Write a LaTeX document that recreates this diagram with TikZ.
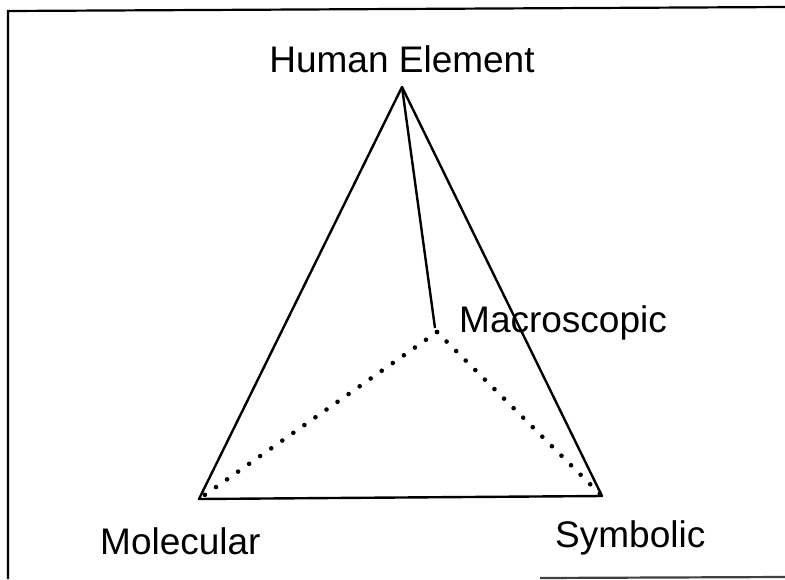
\documentclass[tikz,border=0pt]{standalone}
\usepackage{fontspec}
\setmainfont{Liberation Sans}
\begin{document}
\begin{tikzpicture}[x=1pt,y=-1pt,
  lbl/.style={inner sep=0pt,font=\fontsize{37}{40}\selectfont},
  edge/.style={line width=2.4pt,line join=round},
  hidden/.style={line width=4.6pt,line cap=round,dash pattern=on 0pt off 13.5pt},
  frameline/.style={line width=2.2pt}]
\useasboundingbox (0,0) rectangle (785,579);
% frame
\coordinate (f1) at (8,579);
\coordinate (f2) at (8,11);
\coordinate (f3) at (785,7);
\coordinate (f4) at (540,578);
\coordinate (f5) at (785,577);
\draw[frameline] (f1) -- (f2) -- (f3);
\draw[frameline,black!75] (f4) -- (f5);
% vertices
\coordinate (H) at (402,87);
\coordinate (M) at (435,328);
\coordinate (Md) at (437,332);
\coordinate (L) at (199,499);
\coordinate (R) at (602,496);
% edges
\draw[edge] (L) -- (H) -- (R) -- cycle;
\draw[edge] (H) -- (M);
\draw[hidden] (Md) -- (L);
\draw[hidden] (Md) -- (R);
% labels
\node[lbl,anchor=base] (hl) at (402,72) {Human Element};
\node[lbl,anchor=base west] (ml) at (459,332) {Macroscopic};
\node[lbl,anchor=base west] (mol) at (100,554) {Molecular};
\node[lbl,anchor=base west] (sl) at (555,547) {Symbolic};
\end{tikzpicture}
\end{document}
